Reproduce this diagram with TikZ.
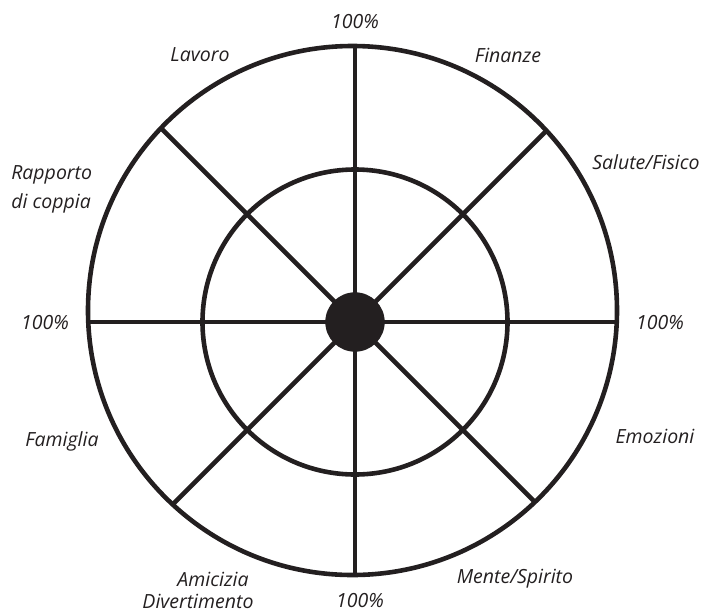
\documentclass[tikz,border=0pt]{standalone}
\usepackage{fontspec}
\setmainfont{Open Sans}
\usepackage{tikz}
\usetikzlibrary{positioning}
\definecolor{wheelblack}{RGB}{35,31,32}
\tikzset{
  area/.style={text=wheelblack, font=\fontsize{19.5}{29}\selectfont\itshape, inner sep=0pt},
}

\begin{document}
\begin{tikzpicture}[x=1pt, y=-1pt, line width=4.6pt]
  \useasboundingbox (0,0) rectangle (710,614);
  \coordinate (hub) at (355,322);
  \coordinate (rim) at (352.5,310.5);
  % spokes, cut at the outer ring
  \begin{scope}
    \clip (rim) circle (264.5pt);
    \foreach \a in {0,45,...,315}
      \draw[wheelblack] (hub) -- ++(\a:400pt);
  \end{scope}
  \draw[wheelblack] (rim) circle (264.5pt);
  \draw[wheelblack] (hub) circle (152.5pt);
  \fill[wheelblack] (hub) circle (29.7pt);
  % labels
  \node[area] (top)   at (355,22)  {100\%};
  \node[area] (left)  at (45,323)  {100\%};
  \node[area] (right) at (660,323) {100\%};
  \node[area] (bottom) at (360,601) {100\%};
  \node[area] (lavoro)   at (200,55)  {Lavoro};
  \node[area] (finanze)  at (508,55)  {Finanze};
  \node[area] (salute)   at (646,162) {Salute/Fisico};
  \node[area, align=left, anchor=west] (coppia) at (9,189) {Rapporto\\di coppia};
  \node[area] (emozioni) at (655,436) {Emozioni};
  \node[area] (famiglia) at (62,441)  {Famiglia};
  \node[area] (mente)    at (515,579) {Mente/Spirito};
  \node[area] (amicizia) at (213,579) {Amicizia};
  \node[area] (divert)   at (198,601) {Divertimento};
\end{tikzpicture}
\end{document}
